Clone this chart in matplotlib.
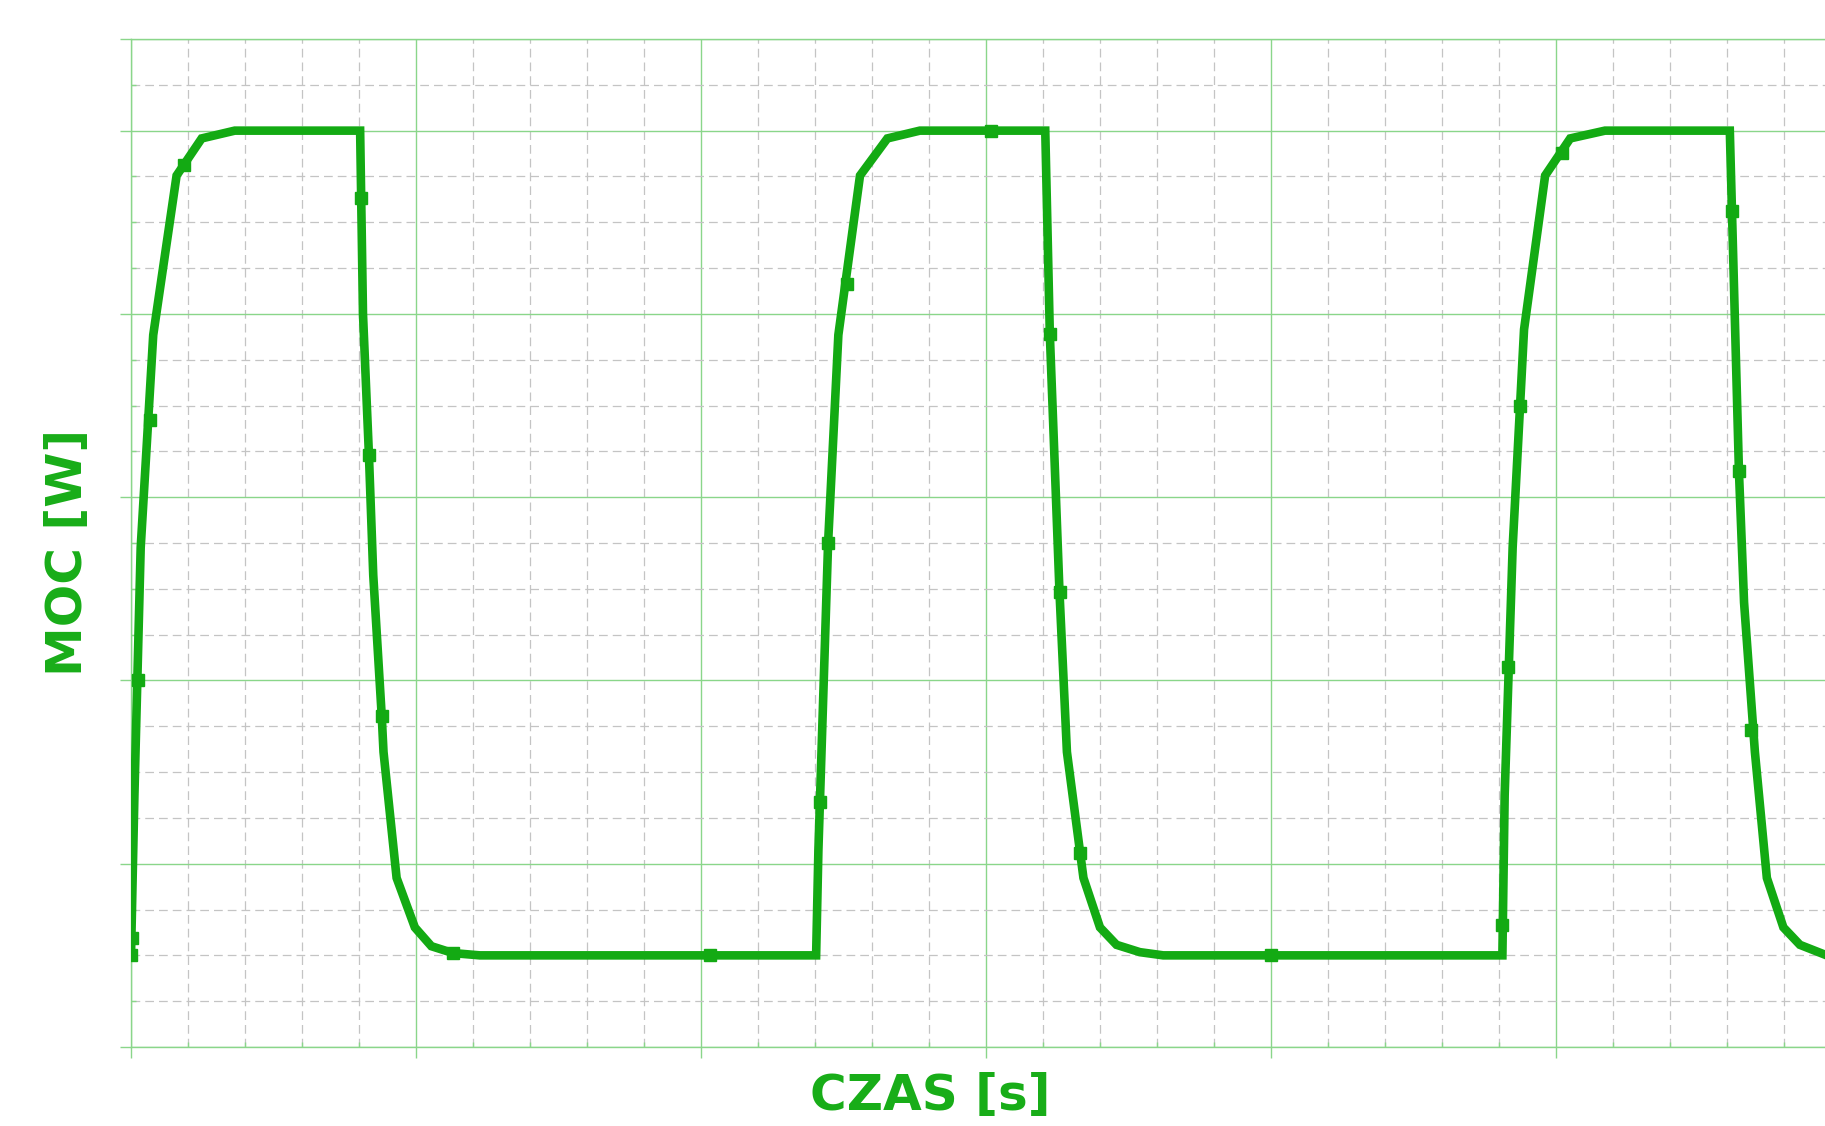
import matplotlib
matplotlib.use('Agg')
import matplotlib.pyplot as plt
from matplotlib.ticker import MultipleLocator, FixedLocator

# curve vertices, in grid divisions (x: time, y: power)
czas = [0.0, 0.06, 0.17, 0.39, 0.80, 1.24, 1.82,
        4.02, 4.07, 4.175, 4.25, 4.40, 4.43, 4.66, 4.98, 5.27, 5.65, 6.12,
        12.02, 12.06, 12.23, 12.41, 12.79, 13.27, 13.84,
        16.04, 16.12, 16.29, 16.42, 16.71, 17.00, 17.29, 17.70, 18.11,
        24.06, 24.10, 24.24, 24.44, 24.81, 25.25, 25.86,
        28.05, 28.21, 28.30, 28.49, 28.70, 28.99, 29.28, 29.75]
moc = [2.0, 5.5, 10.9, 15.54, 19.02, 19.83, 20.0,
       20.0, 16.0, 12.9, 10.3, 7.2, 6.44, 3.69, 2.61, 2.2, 2.05, 2.0,
       2.0, 4.3, 11.0, 15.54, 19.02, 19.83, 20.0,
       20.0, 15.57, 9.92, 6.44, 3.69, 2.61, 2.23, 2.07, 2.0,
       2.0, 5.5, 10.9, 15.66, 19.02, 19.83, 20.0,
       20.0, 12.57, 9.7, 6.44, 3.69, 2.61, 2.23, 2.0]

# sample markers visible along the trace
czas_pkt = [0.0, 0.02, 0.13, 0.33, 0.93, 4.035, 4.175, 4.40, 5.65, 10.16,
            12.09, 12.23, 12.56, 15.08, 16.12, 16.29, 16.65, 20.0,
            24.05, 24.16, 24.37, 25.10, 28.08, 28.21, 28.43]
moc_pkt = [2.0, 2.37, 8.0, 13.69, 19.26, 18.54, 12.91, 7.22, 2.05, 2.0,
           5.34, 11.0, 16.65, 20.0, 15.57, 9.92, 4.23, 2.0,
           2.67, 8.3, 13.99, 19.52, 18.24, 12.57, 6.92]

green = '#13aa13'
text_green = '#18ad18'
grid_green = '#8ad68a'

fig = plt.figure(figsize=(18.25, 11.26), dpi=100)
ax = fig.add_axes([131 / 1825, 79 / 1126, 1 - 131 / 1825, 1008 / 1126])

ax.plot(czas, moc, color=green, lw=6.2, solid_joinstyle='miter', zorder=3)
ax.plot(czas_pkt, moc_pkt, 's', color=green, ms=8.5, zorder=4)

ax.set_xlim(0, 29.72)
ax.set_ylim(0, 22)

ax.xaxis.set_major_locator(MultipleLocator(5))
ax.xaxis.set_minor_locator(MultipleLocator(1))
ax.yaxis.set_major_locator(FixedLocator([0, 4, 8, 12, 16, 20, 22]))
ax.yaxis.set_minor_locator(MultipleLocator(1))

ax.grid(which='major', color=grid_green, lw=1.0, ls='-')
ax.grid(which='minor', color='#c4c4c4', lw=0.9, ls=(0, (7, 4)))
ax.set_axisbelow(True)

ax.tick_params(which='major', direction='out', length=8, width=1.0,
               color=grid_green, labelbottom=False, labelleft=False)
ax.tick_params(which='minor', direction='in', length=3.5, width=1.0,
               color=grid_green)

for side in ['left', 'bottom', 'top']:
    ax.spines[side].set_color(grid_green)
    ax.spines[side].set_linewidth(1.0)
ax.spines['right'].set_visible(False)

fig.text(930 / 1825, 16 / 1126, 'CZAS [s]', color=text_green, fontsize=36,
         fontweight='bold', ha='center', va='baseline')
fig.text(68 / 1825, 0.509, 'MOC [W]', color=text_green, fontsize=36,
         fontweight='bold', ha='center', va='center', rotation=90)

fig.savefig('out.png', dpi=100)
